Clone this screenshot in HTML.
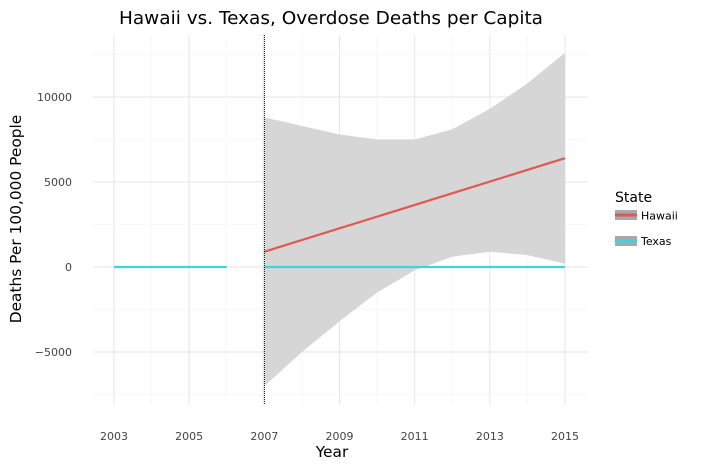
<!DOCTYPE html>
<html><head><meta charset="utf-8"><style>
body{margin:0;background:#fff;font-family:"DejaVu Sans","Liberation Sans",sans-serif}
</style></head><body>
<svg id="chart" width="708" height="469" xmlns="http://www.w3.org/2000/svg" font-family="DejaVu Sans, Liberation Sans, sans-serif">
<text x="331" y="24" text-anchor="middle" font-size="18" textLength="424" lengthAdjust="spacingAndGlyphs" fill="#000">Hawaii vs. Texas, Overdose Deaths per Capita</text>
<g id="grid"></g>
<g id="marks"></g>
<g id="axes"></g>
<text x="332" y="457" text-anchor="middle" font-size="15.4">Year</text>
<text transform="translate(21,219) rotate(-90)" text-anchor="middle" font-size="15.4">Deaths Per 100,000 People</text>
<g>
<text x="615" y="202" font-size="14">State</text>
<g>
<rect x="615" y="210" width="22" height="10" fill="#a8a8a8"/><rect x="615" y="213.5" width="22" height="3" fill="#e05a4f"/>
<text x="641" y="219.5" font-size="11">Hawaii</text></g>
<g>
<rect x="615" y="236" width="22" height="10" fill="#a8a8a8"/><rect x="615" y="239.5" width="22" height="3" fill="#3fd3dc"/>
<text x="641" y="245" font-size="11">Texas</text></g>
</g>
</svg>
<script>
const bandYears=[2007,2008,2009,2010,2011,2012,2013,2014,2015];
const bandUpper=[8800,8300,7800,7500,7500,8100,9300,10800,12600];
const bandLower=[-7000,-5000,-3200,-1500,-200,600,900,700,200];
const hawaiiYears=[2007,2015];
const hawaiiValues=[900,6400];
const texasPreYears=[2003,2006];
const texasPreValues=[0,0];
const texasPostYears=[2007,2015];
const texasPostValues=[0,0];
const xTicks=[2003,2005,2007,2009,2011,2013,2015];
const yTicks=[-5000,0,5000,10000];
const yTickLabels=["\u22125000","0","5000","10000"];
const cutYear=2007;

const L=93,R=588,T=35,B=405;
const x=v=>114+(v-2003)*(565-114)/12;
const y=v=>267-v*(267-97)/10000;
const ns="http://www.w3.org/2000/svg";
function mk(p,tag,at){const e=document.createElementNS(ns,tag);for(const k in at)e.setAttribute(k,at[k]);document.getElementById(p).appendChild(e);return e;}
for(let yr=2003;yr<=2015;yr++){const e=mk('grid','line',{x1:x(yr),x2:x(yr),y1:T,y2:B,stroke:yr%2?'#e6e6e6':'#f4f4f4','stroke-width':yr%2?1:0.6});

}
for(let v=-7500;v<=12500;v+=2500){const e=mk('grid','line',{x1:L,x2:R,y1:y(v),y2:y(v),stroke:v%5000===0?'#e6e6e6':'#f4f4f4','stroke-width':v%5000===0?1:0.6});

}
let d=bandYears.map((yr,i)=>(i?'L':'M')+x(yr)+','+y(bandUpper[i])).join('');
for(let i=bandYears.length-1;i>=0;i--)d+='L'+x(bandYears[i])+','+y(bandLower[i]);
let e=mk('marks','path',{d:d+'Z',fill:'#d6d6d6'});


function line(xs,vs,c,name){const el=mk('marks','path',{d:xs.map((yr,i)=>(i?'L':'M')+x(yr)+','+y(vs[i])).join(''),stroke:c,'stroke-width':2.2,fill:'none'});

}
line(hawaiiYears,hawaiiValues,'#e05a4f','hawaii-line');
line(texasPreYears,texasPreValues,'#3fd3dc','texas-line-pre');
line(texasPostYears,texasPostValues,'#3fd3dc','texas-line-post');
e=mk('marks','line',{x1:x(cutYear),x2:x(cutYear),y1:T,y2:B,stroke:'#000','stroke-width':1,'stroke-dasharray':'1,1'});


xTicks.forEach(t=>{const el=mk('axes','text',{x:x(t),y:440,'text-anchor':'middle','font-size':11,fill:'#444'});el.textContent=t;

});
yTicks.forEach((t,i)=>{const el=mk('axes','text',{x:72,y:y(t)+4,'text-anchor':'end','font-size':11,fill:'#444'});el.textContent=yTickLabels[i];

});
</script>
</body></html>
